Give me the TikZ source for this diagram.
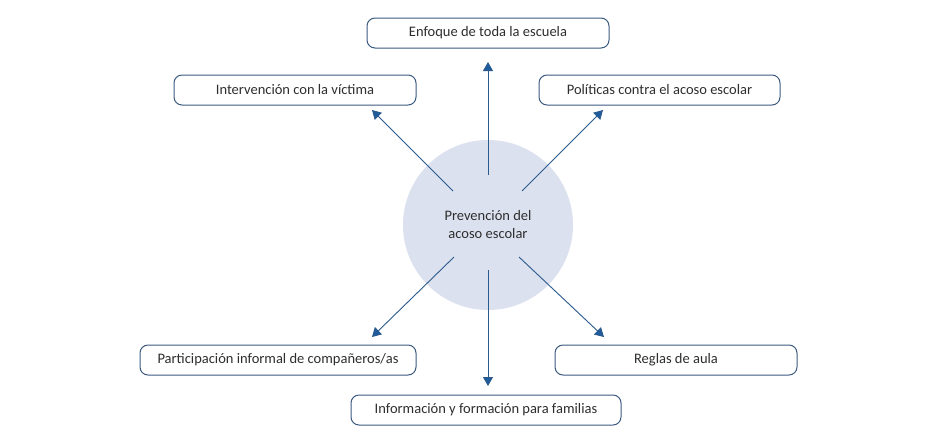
\documentclass[tikz,border=0pt]{standalone}
\usepackage{fontspec}
\setmainfont{Carlito}
\usetikzlibrary{arrows.meta}
\definecolor{boxline}{HTML}{3D5A80}
\definecolor{arrowcol}{HTML}{1F5C9E}
\definecolor{linecol}{HTML}{2B5A8C}
\definecolor{circfill}{HTML}{DCE1EF}
\definecolor{txt}{HTML}{2E2E2E}
\tikzset{
  item/.style={draw=boxline, line width=1pt, rounded corners=8pt, fill=white,
    minimum height=30pt, inner sep=0pt, text=txt, font=\fontsize{14.5}{16}\selectfont},
  conn/.style={draw=linecol, line width=0.9pt, -{Triangle[length=9pt,width=10pt,fill=arrowcol]}}
}
\begin{document}
\begin{tikzpicture}[x=1pt,y=-1pt]
\useasboundingbox (0,0) rectangle (942,445);
\fill[white] (0,0) rectangle (942,445);
\node[circle, fill=circfill, minimum size=170pt, inner sep=0pt, text=txt,
  font=\fontsize{14.5}{18}\selectfont, align=center] (c) at (488,225) {Prevención del\\acoso escolar};
\node[item, minimum width=242pt] (a) at (488,33) {Enfoque de toda la escuela};
\node[item, minimum width=242pt] (b) at (295,90) {Intervención con la víctima};
\node[item, minimum width=241pt] (d) at (659.5,90) {Políticas contra el acoso escolar};
\node[item, minimum width=276pt] (e) at (278,360) {Participación informal de compañeros/as};
\node[item, minimum width=242pt] (f) at (676,360) {Reglas de aula};
\node[item, minimum width=270pt] (g) at (486,410) {Información y formación para familias};
\coordinate (sa) at (488,175);
\coordinate (ta) at (488,62);
\coordinate (sb) at (453,191);
\coordinate (tb) at (372,110);
\coordinate (sd) at (522,191);
\coordinate (td) at (603,110);
\coordinate (se) at (454,257);
\coordinate (te) at (372,337);
\coordinate (sf) at (519,257);
\coordinate (tf) at (604,337);
\coordinate (sg) at (488,270);
\coordinate (tg) at (488,386);
\draw[conn] (sa) -- (ta);
\draw[conn] (sb) -- (tb);
\draw[conn] (sd) -- (td);
\draw[conn] (se) -- (te);
\draw[conn] (sf) -- (tf);
\draw[conn] (sg) -- (tg);
\end{tikzpicture}
\end{document}
